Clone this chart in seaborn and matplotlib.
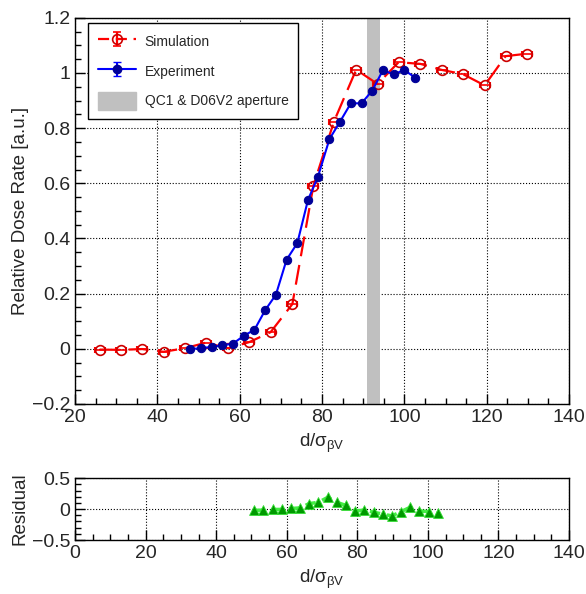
import numpy as np
import pandas as pd
import matplotlib
matplotlib.use('Agg')
import matplotlib.pyplot as plt
import seaborn as sns
from matplotlib.ticker import MultipleLocator, FuncFormatter
from matplotlib.patches import Patch

# simulation (red open circles)
sim_x = [26.0, 31.1, 36.3, 41.5, 46.7, 51.8, 57.2, 62.3, 67.5, 72.8, 77.9,
         82.9, 88.3, 93.5, 98.6, 103.9, 109.1, 114.2, 119.5, 124.6, 129.8]
sim_y = [-0.003, -0.004, -0.001, -0.011, 0.002, 0.022, 0.002, 0.024, 0.060, 0.162, 0.591,
         0.824, 1.012, 0.960, 1.039, 1.033, 1.011, 0.996, 0.955, 1.061, 1.070]

# experiment (blue filled circles)
exp_x = [48.0, 50.6, 53.2, 55.8, 58.4, 61.0, 63.6, 66.2, 68.8, 71.4, 74.0,
         76.6, 79.0, 81.8, 84.4, 87.0, 89.6, 92.2, 94.8, 97.4, 100.0, 102.6]
exp_y = [-0.001, 0.002, 0.007, 0.012, 0.019, 0.047, 0.069, 0.140, 0.196, 0.323, 0.383,
         0.540, 0.623, 0.760, 0.824, 0.890, 0.890, 0.936, 1.010, 0.995, 1.011, 0.983]

# residual (green triangles)
res_x = [50.8, 53.4, 56.0, 58.6, 61.2, 63.8, 66.4, 69.0, 71.6, 74.2, 76.8,
         79.4, 82.0, 84.6, 87.2, 89.8, 92.4, 95.0, 97.6, 100.2, 102.8]
res_y = [-0.02, -0.016, -0.005, -0.005, 0.01, 0.02, 0.09, 0.11, 0.19, 0.11, 0.06,
         -0.03, -0.016, -0.05, -0.08, -0.11, -0.04, 0.03, -0.03, -0.04, -0.07]

aperture = (91.0, 94.0)

sim_df = pd.DataFrame({'d': sim_x, 'rate': sim_y})
exp_df = pd.DataFrame({'d': exp_x, 'rate': exp_y})
res_df = pd.DataFrame({'d': res_x, 'res': res_y})

sns.set_style('ticks')
plt.rcParams['font.family'] = ['Liberation Sans', 'DejaVu Sans']
plt.rcParams['mathtext.fontset'] = 'custom'
plt.rcParams['mathtext.rm'] = 'Liberation Sans'
plt.rcParams['mathtext.it'] = 'Liberation Sans:italic'

fig = plt.figure(figsize=(5.86, 5.94), dpi=100)
ax = fig.add_axes([0.128, 0.320, 0.843, 0.650])
axr = fig.add_axes([0.128, 0.0909, 0.843, 0.104])

fmt = FuncFormatter(lambda v, p: ('%g' % round(v, 3)).replace('-', '\u2212'))

# ---- main panel ----
ax.axvspan(*aperture, color='#c0c0c0', lw=0, zorder=1)
ax.errorbar(sim_x, sim_y, xerr=1.2, fmt='none', ecolor='red', elinewidth=1.2,
            capsize=2, capthick=1.5, zorder=2)
sns.lineplot(data=sim_df, x='d', y='rate', ax=ax, color='red', lw=1.6,
             linestyle=(0, (9, 4)), marker='o', markersize=7,
             markerfacecolor='none', markeredgecolor='#cc0000',
             markeredgewidth=1.2, sort=False, zorder=3)
sns.lineplot(data=exp_df, x='d', y='rate', ax=ax, color='blue', lw=1.5,
             marker='o', markersize=6, markerfacecolor='#000099',
             markeredgecolor='#000099', sort=False, zorder=4)

# legend proxies
h_sim = ax.errorbar([np.nan], [np.nan], yerr=[0.1], marker='o', ls=(0, (5, 3)),
                    color='red', mfc='none', mec='#cc0000', ms=7, mew=1.2,
                    capsize=3, lw=1.6)
h_exp = ax.errorbar([np.nan], [np.nan], yerr=[0.1], marker='o', ls='-',
                    color='blue', mfc='#000099', mec='#000099', ms=6,
                    capsize=3, lw=1.5)
h_ap = Patch(facecolor='#c0c0c0', edgecolor='#c0c0c0')
leg = ax.legend([h_sim, h_exp, h_ap],
                ['Simulation', 'Experiment', 'QC1 & D06V2 aperture'],
                loc='upper left', bbox_to_anchor=(0.026, 0.987), borderaxespad=0,
                fontsize=10, frameon=True, fancybox=False, edgecolor='black',
                handlelength=2.8, handleheight=1.6, labelspacing=0.85,
                borderpad=0.7, handletextpad=0.6, framealpha=1)
leg.get_frame().set_linewidth(1.0)

ax.set_xlim(20, 140)
ax.set_ylim(-0.2, 1.2)
ax.xaxis.set_major_locator(MultipleLocator(20))
ax.xaxis.set_minor_locator(MultipleLocator(5))
ax.yaxis.set_major_locator(MultipleLocator(0.2))
ax.yaxis.set_minor_locator(MultipleLocator(0.05))
ax.yaxis.set_major_formatter(fmt)
ax.set_xlabel('d/σ$_{\\mathregular{\\beta V}}$', fontsize=13.5, labelpad=4)
ax.set_ylabel('Relative Dose Rate [a.u.]', fontsize=13.5, labelpad=2)

# ---- residual panel ----
sns.lineplot(data=res_df, x='d', y='res', ax=axr, color='#44ee44', lw=2.5,
             linestyle=(0, (3, 2)), sort=False, zorder=2)
sns.scatterplot(data=res_df, x='d', y='res', ax=axr, color='#009900', marker='^',
                s=50, edgecolor='#33dd33', linewidth=0.6, zorder=3)
axr.set_xlim(0, 140)
axr.set_ylim(-0.5, 0.5)
axr.xaxis.set_major_locator(MultipleLocator(20))
axr.xaxis.set_minor_locator(MultipleLocator(5))
axr.yaxis.set_major_locator(MultipleLocator(0.5))
axr.yaxis.set_minor_locator(MultipleLocator(0.1))
axr.yaxis.set_major_formatter(fmt)
axr.set_xlabel('d/σ$_{\\mathregular{\\beta V}}$', fontsize=13.5, labelpad=4)
axr.set_ylabel('Residual', fontsize=13.5, labelpad=2)

for a in (ax, axr):
    a.grid(True, which='major', ls=':', color='black', lw=0.8)
    a.set_axisbelow(True)
    a.tick_params(which='both', direction='in', top=False, right=False,
                  labelsize=14, color='black')
    a.tick_params(which='major', length=7, width=1)
    a.tick_params(which='minor', length=4, width=1)
    for s in a.spines.values():
        s.set_color('black')
        s.set_linewidth(1.0)

fig.savefig('out.png', dpi=100)
